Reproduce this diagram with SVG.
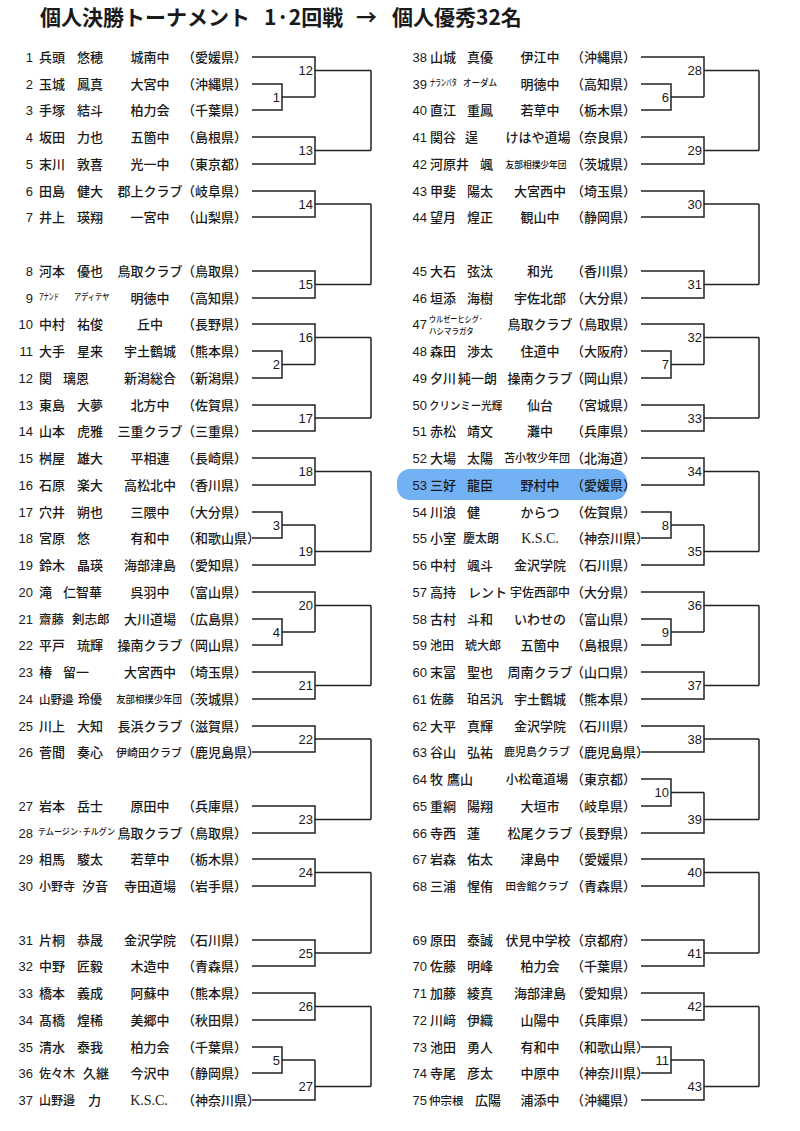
<svg xmlns="http://www.w3.org/2000/svg" width="800" height="1131" viewBox="0 0 800 1131">
<style>
svg{font-family:"Noto Sans CJK JP","Noto Sans CJK SC",sans-serif;font-size:13px;font-weight:500}
text{fill:#1a1a1a}
.n{font-family:"Liberation Sans",Arial,sans-serif;text-anchor:end}
.s{text-anchor:middle}
.k{font-family:"Liberation Serif",serif;font-size:14px}
.lb{font-family:"Liberation Sans",Arial,sans-serif;text-anchor:end;font-size:13px}
.ln{fill:none;stroke:#222;stroke-width:1.5}
.title{font-size:21px;font-weight:bold}
</style>
<rect width="800" height="1131" fill="#fff"/>
<g id="title">
<text class="title" x="40" y="25">個人決勝トーナメント</text>
<text class="title" x="264" y="25">1·2回戦</text>
<text class="title" x="356" y="25">→</text>
<text class="title" x="392" y="25">個人優秀32名</text>
</g>
<rect id="highlight" x="397" y="469" width="230" height="31" rx="13" fill="#4f9ef0" opacity="0.8"/>
<g id="connectors" class="ln">
<path d="M252 84 H282 V110 H252 M282 97 H315"/>
<path d="M252 57 H315 V97 M315 70.5 H371"/>
<path d="M252 137 H315 V164 H252 M315 150.5 H371"/>
<path d="M371 70.5 V150.5"/>
<path d="M252 191 H315 V217 H252 M315 204 H371"/>
<path d="M252 271 H315 V298 H252 M315 284.5 H371"/>
<path d="M371 204 V284.5"/>
<path d="M252 351 H282 V378 H252 M282 364.5 H315"/>
<path d="M252 324 H315 V364.5 M315 337.5 H371"/>
<path d="M252 405 H315 V431 H252 M315 418 H371"/>
<path d="M371 337.5 V418"/>
<path d="M252 458 H315 V485 H252 M315 471.5 H371"/>
<path d="M252 512 H282 V538 H252 M282 525 H315"/>
<path d="M252 565 H315 V525 M315 551.5 H371"/>
<path d="M371 471.5 V551.5"/>
<path d="M252 619 H282 V645 H252 M282 632 H315"/>
<path d="M252 592 H315 V632 M315 605.5 H371"/>
<path d="M252 672 H315 V699 H252 M315 685.5 H371"/>
<path d="M371 605.5 V685.5"/>
<path d="M252 726 H315 V752 H252 M315 739 H371"/>
<path d="M252 806 H315 V833 H252 M315 819.5 H371"/>
<path d="M371 739 V819.5"/>
<path d="M252 859 H315 V886 H252 M315 872.5 H371"/>
<path d="M252 940 H315 V966 H252 M315 953 H371"/>
<path d="M371 872.5 V953"/>
<path d="M252 993 H315 V1020 H252 M315 1006.5 H371"/>
<path d="M252 1047 H282 V1073 H252 M282 1060 H315"/>
<path d="M252 1100 H315 V1060 M315 1086.5 H371"/>
<path d="M371 1006.5 V1086.5"/>

<path d="M641 84 H671 V110 H641 M671 97 H704"/>
<path d="M641 57 H704 V97 M704 70.5 H759"/>
<path d="M641 137 H704 V164 H641 M704 150.5 H759"/>
<path d="M759 70.5 V150.5"/>
<path d="M641 191 H704 V217 H641 M704 204 H759"/>
<path d="M641 271 H704 V298 H641 M704 284.5 H759"/>
<path d="M759 204 V284.5"/>
<path d="M641 351 H671 V378 H641 M671 364.5 H704"/>
<path d="M641 324 H704 V364.5 M704 337.5 H759"/>
<path d="M641 405 H704 V431 H641 M704 418 H759"/>
<path d="M759 337.5 V418"/>
<path d="M641 458 H704 V485 H641 M704 471.5 H759"/>
<path d="M641 512 H671 V538 H641 M671 525 H704"/>
<path d="M641 565 H704 V525 M704 551.5 H759"/>
<path d="M759 471.5 V551.5"/>
<path d="M641 619 H671 V645 H641 M671 632 H704"/>
<path d="M641 592 H704 V632 M704 605.5 H759"/>
<path d="M641 672 H704 V699 H641 M704 685.5 H759"/>
<path d="M759 605.5 V685.5"/>
<path d="M641 726 H704 V752 H641 M704 739 H759"/>
<path d="M641 779 H671 V806 H641 M671 792.5 H704"/>
<path d="M641 833 H704 V792.5 M704 819.5 H759"/>
<path d="M759 739 V819.5"/>
<path d="M641 859 H704 V886 H641 M704 872.5 H759"/>
<path d="M641 940 H704 V966 H641 M704 953 H759"/>
<path d="M759 872.5 V953"/>
<path d="M641 993 H704 V1020 H641 M704 1006.5 H759"/>
<path d="M641 1047 H671 V1073 H641 M671 1060 H704"/>
<path d="M641 1100 H704 V1060 M704 1086.5 H759"/>
<path d="M759 1006.5 V1086.5"/>
</g>
<g id="match-labels">
<text class="lb" x="280" y="101.5">1</text>
<text class="lb" x="313" y="75">12</text>
<text class="lb" x="313" y="155">13</text>
<text class="lb" x="313" y="208.5">14</text>
<text class="lb" x="313" y="289">15</text>
<text class="lb" x="280" y="369">2</text>
<text class="lb" x="313" y="342">16</text>
<text class="lb" x="313" y="422.5">17</text>
<text class="lb" x="313" y="476">18</text>
<text class="lb" x="280" y="529.5">3</text>
<text class="lb" x="313" y="556">19</text>
<text class="lb" x="280" y="636.5">4</text>
<text class="lb" x="313" y="610">20</text>
<text class="lb" x="313" y="690">21</text>
<text class="lb" x="313" y="743.5">22</text>
<text class="lb" x="313" y="824">23</text>
<text class="lb" x="313" y="877">24</text>
<text class="lb" x="313" y="957.5">25</text>
<text class="lb" x="313" y="1011">26</text>
<text class="lb" x="280" y="1064.5">5</text>
<text class="lb" x="313" y="1091">27</text>
<text class="lb" x="669" y="101.5">6</text>
<text class="lb" x="702" y="75">28</text>
<text class="lb" x="702" y="155">29</text>
<text class="lb" x="702" y="208.5">30</text>
<text class="lb" x="702" y="289">31</text>
<text class="lb" x="669" y="369">7</text>
<text class="lb" x="702" y="342">32</text>
<text class="lb" x="702" y="422.5">33</text>
<text class="lb" x="702" y="476">34</text>
<text class="lb" x="669" y="529.5">8</text>
<text class="lb" x="702" y="556">35</text>
<text class="lb" x="669" y="636.5">9</text>
<text class="lb" x="702" y="610">36</text>
<text class="lb" x="702" y="690">37</text>
<text class="lb" x="702" y="743.5">38</text>
<text class="lb" x="669" y="797">10</text>
<text class="lb" x="702" y="824">39</text>
<text class="lb" x="702" y="877">40</text>
<text class="lb" x="702" y="957.5">41</text>
<text class="lb" x="702" y="1011">42</text>
<text class="lb" x="669" y="1064.5">11</text>
<text class="lb" x="702" y="1091">43</text>
</g>
<g id="p1"><text class="n" x="33" y="62">1</text><text x="39" y="62">兵頭</text><text x="77" y="62">悠穂</text><text class="s" x="150" y="62">城南中</text><text x="182" y="62">（愛媛県）</text></g>
<g id="p2"><text class="n" x="33" y="89">2</text><text x="39" y="89">玉城</text><text x="77" y="89">鳳真</text><text class="s" x="150" y="89">大宮中</text><text x="182" y="89">（沖縄県）</text></g>
<g id="p3"><text class="n" x="33" y="115">3</text><text x="39" y="115">手塚</text><text x="77" y="115">結斗</text><text class="s" x="150" y="115">柏力会</text><text x="182" y="115">（千葉県）</text></g>
<g id="p4"><text class="n" x="33" y="142">4</text><text x="39" y="142">坂田</text><text x="77" y="142">力也</text><text class="s" x="150" y="142">五箇中</text><text x="182" y="142">（島根県）</text></g>
<g id="p5"><text class="n" x="33" y="169">5</text><text x="39" y="169">末川</text><text x="77" y="169">敦喜</text><text class="s" x="150" y="169">光一中</text><text x="182" y="169">（東京都）</text></g>
<g id="p6"><text class="n" x="33" y="196">6</text><text x="39" y="196">田島</text><text x="77" y="196">健大</text><text class="s" x="150" y="196">郡上クラブ</text><text x="182" y="196">（岐阜県）</text></g>
<g id="p7"><text class="n" x="33" y="222">7</text><text x="39" y="222">井上</text><text x="77" y="222">瑛翔</text><text class="s" x="150" y="222">一宮中</text><text x="182" y="222">（山梨県）</text></g>
<g id="p8"><text class="n" x="33" y="276">8</text><text x="39" y="276">河本</text><text x="77" y="276">優也</text><text class="s" x="150" y="276">鳥取クラブ</text><text x="182" y="276">（鳥取県）</text></g>
<g id="p9"><text class="n" x="33" y="303">9</text><text transform="translate(39,300) scale(0.55,1)" font-size="9">アナンド</text><text transform="translate(74,300) scale(0.8,1)" font-size="9">アディテヤ</text><text class="s" x="150" y="303">明徳中</text><text x="182" y="303">（高知県）</text></g>
<g id="p10"><text class="n" x="33" y="329">10</text><text x="39" y="329">中村</text><text x="77" y="329">祐俊</text><text class="s" x="150" y="329">丘中</text><text x="182" y="329">（長野県）</text></g>
<g id="p11"><text class="n" x="33" y="356">11</text><text x="39" y="356">大手</text><text x="77" y="356">星来</text><text class="s" x="150" y="356">宇土鶴城</text><text x="182" y="356">（熊本県）</text></g>
<g id="p12"><text class="n" x="33" y="383">12</text><text x="39" y="383">関</text><text x="63" y="383">璃恩</text><text class="s" x="150" y="383">新潟総合</text><text x="182" y="383">（新潟県）</text></g>
<g id="p13"><text class="n" x="33" y="410">13</text><text x="39" y="410">東島</text><text x="77" y="410">大夢</text><text class="s" x="150" y="410">北方中</text><text x="182" y="410">（佐賀県）</text></g>
<g id="p14"><text class="n" x="33" y="436">14</text><text x="39" y="436">山本</text><text x="77" y="436">虎雅</text><text class="s" x="150" y="436">三重クラブ</text><text x="182" y="436">（三重県）</text></g>
<g id="p15"><text class="n" x="33" y="463">15</text><text x="39" y="463">桝屋</text><text x="77" y="463">雄大</text><text class="s" x="150" y="463">平相連</text><text x="182" y="463">（長崎県）</text></g>
<g id="p16"><text class="n" x="33" y="490">16</text><text x="39" y="490">石原</text><text x="77" y="490">楽大</text><text class="s" x="150" y="490">高松北中</text><text x="182" y="490">（香川県）</text></g>
<g id="p17"><text class="n" x="33" y="517">17</text><text x="39" y="517">穴井</text><text x="77" y="517">朔也</text><text class="s" x="150" y="517">三隈中</text><text x="182" y="517">（大分県）</text></g>
<g id="p18"><text class="n" x="33" y="543">18</text><text x="39" y="543">宮原</text><text x="77" y="543">悠</text><text class="s" x="150" y="543">有和中</text><text x="182" y="543">（和歌山県）</text></g>
<g id="p19"><text class="n" x="33" y="570">19</text><text x="39" y="570">鈴木</text><text x="77" y="570">晶瑛</text><text class="s" x="150" y="570">海部津島</text><text x="182" y="570">（愛知県）</text></g>
<g id="p20"><text class="n" x="33" y="597">20</text><text x="39" y="597">滝</text><text x="63" y="597">仁智華</text><text class="s" x="150" y="597">呉羽中</text><text x="182" y="597">（富山県）</text></g>
<g id="p21"><text class="n" x="33" y="624">21</text><text x="39" y="624" font-size="12.5">齋藤</text><text x="72" y="624" font-size="12.5">剣志郎</text><text class="s" x="150" y="624">大川道場</text><text x="182" y="624">（広島県）</text></g>
<g id="p22"><text class="n" x="33" y="650">22</text><text x="39" y="650">平戸</text><text x="77" y="650">琉輝</text><text class="s" x="150" y="650">操南クラブ</text><text x="182" y="650">（岡山県）</text></g>
<g id="p23"><text class="n" x="33" y="677">23</text><text x="39" y="677">椿</text><text x="63" y="677">留一</text><text class="s" x="150" y="677">大宮西中</text><text x="182" y="677">（埼玉県）</text></g>
<g id="p24"><text class="n" x="33" y="704">24</text><text x="39" y="704" font-size="11.5">山野邉</text><text x="78" y="704" font-size="12">玲優</text><text class="s" transform="translate(149,703) scale(0.94,1)" font-size="10">友部相撲少年団</text><text x="182" y="704">（茨城県）</text></g>
<g id="p25"><text class="n" x="33" y="731">25</text><text x="39" y="731">川上</text><text x="77" y="731">大知</text><text class="s" x="150" y="731">長浜クラブ</text><text x="182" y="731">（滋賀県）</text></g>
<g id="p26"><text class="n" x="33" y="757">26</text><text x="39" y="757">菅間</text><text x="77" y="757">奏心</text><text class="s" x="149" y="757" font-size="11">伊崎田クラブ</text><text x="182" y="757">（鹿児島県）</text></g>
<g id="p27"><text class="n" x="33" y="811">27</text><text x="39" y="811">岩本</text><text x="77" y="811">岳士</text><text class="s" x="150" y="811">原田中</text><text x="182" y="811">（兵庫県）</text></g>
<g id="p28"><text class="n" x="33" y="838">28</text><text transform="translate(38,835) scale(0.9,1)" font-size="9">テムージン·チルグン</text><text class="s" x="150" y="838">鳥取クラブ</text><text x="182" y="838">（鳥取県）</text></g>
<g id="p29"><text class="n" x="33" y="864">29</text><text x="39" y="864">相馬</text><text x="77" y="864">駿太</text><text class="s" x="150" y="864">若草中</text><text x="182" y="864">（栃木県）</text></g>
<g id="p30"><text class="n" x="33" y="891">30</text><text x="39" y="891" font-size="12">小野寺</text><text x="82" y="891">汐音</text><text class="s" x="150" y="891">寺田道場</text><text x="182" y="891">（岩手県）</text></g>
<g id="p31"><text class="n" x="33" y="945">31</text><text x="39" y="945">片桐</text><text x="77" y="945">恭晟</text><text class="s" x="150" y="945">金沢学院</text><text x="182" y="945">（石川県）</text></g>
<g id="p32"><text class="n" x="33" y="971">32</text><text x="39" y="971">中野</text><text x="77" y="971">匠毅</text><text class="s" x="150" y="971">木造中</text><text x="182" y="971">（青森県）</text></g>
<g id="p33"><text class="n" x="33" y="998">33</text><text x="39" y="998">橋本</text><text x="77" y="998">義成</text><text class="s" x="150" y="998">阿蘇中</text><text x="182" y="998">（熊本県）</text></g>
<g id="p34"><text class="n" x="33" y="1025">34</text><text x="39" y="1025">髙橋</text><text x="77" y="1025">煌稀</text><text class="s" x="150" y="1025">美郷中</text><text x="182" y="1025">（秋田県）</text></g>
<g id="p35"><text class="n" x="33" y="1052">35</text><text x="39" y="1052">清水</text><text x="77" y="1052">泰我</text><text class="s" x="150" y="1052">柏力会</text><text x="182" y="1052">（千葉県）</text></g>
<g id="p36"><text class="n" x="33" y="1078">36</text><text x="39" y="1078" font-size="12">佐々木</text><text x="83" y="1078">久継</text><text class="s" x="150" y="1078">今沢中</text><text x="182" y="1078">（静岡県）</text></g>
<g id="p37"><text class="n" x="33" y="1105">37</text><text x="39" y="1105" font-size="12">山野邉</text><text x="88" y="1105">力</text><text class="s k" x="149" y="1105">K.S.C.</text><text x="182" y="1105">（神奈川県）</text></g>

<g id="p38"><text class="n" x="427" y="62">38</text><text x="430" y="62">山城</text><text x="467" y="62">真優</text><text class="s" x="540" y="62">伊江中</text><text x="571" y="62">（沖縄県）</text></g>
<g id="p39"><text class="n" x="427" y="89">39</text><text transform="translate(430,86) scale(0.6,1)" font-size="9">ナランバタ</text><text transform="translate(463,86) scale(0.95,1)" font-size="9">オーダム</text><text class="s" x="540" y="89">明徳中</text><text x="571" y="89">（高知県）</text></g>
<g id="p40"><text class="n" x="427" y="115">40</text><text x="430" y="115">直江</text><text x="467" y="115">重鳳</text><text class="s" x="540" y="115">若草中</text><text x="571" y="115">（栃木県）</text></g>
<g id="p41"><text class="n" x="427" y="142">41</text><text x="430" y="142">関谷</text><text x="465" y="142">逞</text><text class="s" x="538" y="142">けはや道場</text><text x="571" y="142">（奈良県）</text></g>
<g id="p42"><text class="n" x="427" y="169">42</text><text x="430" y="169">河原井</text><text x="480" y="169">颯</text><text class="s" transform="translate(536,168) scale(0.92,1)" font-size="9.5">友部相撲少年団</text><text x="571" y="169">（茨城県）</text></g>
<g id="p43"><text class="n" x="427" y="196">43</text><text x="430" y="196">甲斐</text><text x="467" y="196">陽太</text><text class="s" x="540" y="196">大宮西中</text><text x="571" y="196">（埼玉県）</text></g>
<g id="p44"><text class="n" x="427" y="222">44</text><text x="430" y="222">望月</text><text x="467" y="222">煌正</text><text class="s" x="540" y="222">観山中</text><text x="571" y="222">（静岡県）</text></g>
<g id="p45"><text class="n" x="427" y="276">45</text><text x="430" y="276">大石</text><text x="467" y="276">弦汰</text><text class="s" x="540" y="276">和光</text><text x="571" y="276">（香川県）</text></g>
<g id="p46"><text class="n" x="427" y="303">46</text><text x="430" y="303">垣添</text><text x="467" y="303">海樹</text><text class="s" x="540" y="303">宇佐北部</text><text x="571" y="303">（大分県）</text></g>
<g id="p47"><text class="n" x="427" y="329">47</text><text transform="translate(429,322) scale(0.84,1)" font-size="8.5">ウルゼーヒシグ·</text><text transform="translate(429,334) scale(0.88,1)" font-size="8.5">ハシマラガタ</text><text class="s" x="540" y="329">鳥取クラブ</text><text x="571" y="329">（鳥取県）</text></g>
<g id="p48"><text class="n" x="427" y="356">48</text><text x="430" y="356">森田</text><text x="467" y="356">渉太</text><text class="s" x="540" y="356">住道中</text><text x="571" y="356">（大阪府）</text></g>
<g id="p49"><text class="n" x="427" y="383">49</text><text x="430" y="383">夕川</text><text x="458" y="383">純一朗</text><text class="s" x="540" y="383">操南クラブ</text><text x="571" y="383">（岡山県）</text></g>
<g id="p50"><text class="n" x="427" y="410">50</text><text transform="translate(429,410) scale(0.95,1)" font-size="11">クリンミー光輝</text><text class="s" x="540" y="410">仙台</text><text x="571" y="410">（宮城県）</text></g>
<g id="p51"><text class="n" x="427" y="436">51</text><text x="430" y="436">赤松</text><text x="467" y="436">靖文</text><text class="s" x="540" y="436">灘中</text><text x="571" y="436">（兵庫県）</text></g>
<g id="p52"><text class="n" x="427" y="463">52</text><text x="430" y="463">大場</text><text x="467" y="463">太陽</text><text class="s" x="537" y="462" font-size="11">苫小牧少年団</text><text x="571" y="463">（北海道）</text></g>
<g id="p53"><text class="n" x="427" y="490">53</text><text x="430" y="490">三好</text><text x="467" y="490">龍臣</text><text class="s" x="540" y="490">野村中</text><text x="571" y="490">（愛媛県）</text></g>
<g id="p54"><text class="n" x="427" y="517">54</text><text x="430" y="517">川浪</text><text x="467" y="517">健</text><text class="s" x="540" y="517">からつ</text><text x="571" y="517">（佐賀県）</text></g>
<g id="p55"><text class="n" x="427" y="543">55</text><text x="430" y="543">小室</text><text x="463" y="543" font-size="12">慶太朗</text><text class="s k" x="540" y="543">K.S.C.</text><text x="571" y="543">（神奈川県）</text></g>
<g id="p56"><text class="n" x="427" y="570">56</text><text x="430" y="570">中村</text><text x="467" y="570">颯斗</text><text class="s" x="540" y="570">金沢学院</text><text x="571" y="570">（石川県）</text></g>
<g id="p57"><text class="n" x="427" y="597">57</text><text x="430" y="597">高持</text><text x="468" y="597">レント</text><text class="s" x="540" y="597" font-size="12">宇佐西部中</text><text x="571" y="597">（大分県）</text></g>
<g id="p58"><text class="n" x="427" y="624">58</text><text x="430" y="624">古村</text><text x="467" y="624">斗和</text><text class="s" x="540" y="624">いわせの</text><text x="571" y="624">（富山県）</text></g>
<g id="p59"><text class="n" x="427" y="650">59</text><text x="430" y="650" font-size="12">池田</text><text x="465" y="650" font-size="12">琥大郎</text><text class="s" x="540" y="650">五箇中</text><text x="571" y="650">（島根県）</text></g>
<g id="p60"><text class="n" x="427" y="677">60</text><text x="430" y="677">末冨</text><text x="467" y="677">聖也</text><text class="s" x="540" y="677">周南クラブ</text><text x="571" y="677">（山口県）</text></g>
<g id="p61"><text class="n" x="427" y="704">61</text><text x="430" y="704" font-size="12">佐藤</text><text x="467" y="704" font-size="12">珀呂汎</text><text class="s" x="540" y="704">宇土鶴城</text><text x="571" y="704">（熊本県）</text></g>
<g id="p62"><text class="n" x="427" y="731">62</text><text x="430" y="731">大平</text><text x="467" y="731">真輝</text><text class="s" x="540" y="731">金沢学院</text><text x="571" y="731">（石川県）</text></g>
<g id="p63"><text class="n" x="427" y="757">63</text><text x="430" y="757">谷山</text><text x="467" y="757">弘祐</text><text class="s" x="537" y="756" font-size="11">鹿児島クラブ</text><text x="571" y="757">（鹿児島県）</text></g>
<g id="p64"><text class="n" x="427" y="784">64</text><text x="430" y="784">牧</text><text x="447" y="784">鷹山</text><text class="s" x="537" y="784" font-size="12.5">小松竜道場</text><text x="571" y="784">（東京都）</text></g>
<g id="p65"><text class="n" x="427" y="811">65</text><text x="430" y="811">重綱</text><text x="467" y="811">陽翔</text><text class="s" x="540" y="811">大垣市</text><text x="571" y="811">（岐阜県）</text></g>
<g id="p66"><text class="n" x="427" y="838">66</text><text x="430" y="838">寺西</text><text x="467" y="838">蓮</text><text class="s" x="540" y="838">松尾クラブ</text><text x="571" y="838">（長野県）</text></g>
<g id="p67"><text class="n" x="427" y="864">67</text><text x="430" y="864">岩森</text><text x="467" y="864">佑太</text><text class="s" x="540" y="864">津島中</text><text x="571" y="864">（愛媛県）</text></g>
<g id="p68"><text class="n" x="427" y="891">68</text><text x="430" y="891">三浦</text><text x="467" y="891">惺侑</text><text class="s" x="537" y="890" font-size="10.5">田舎館クラブ</text><text x="571" y="891">（青森県）</text></g>
<g id="p69"><text class="n" x="427" y="945">69</text><text x="430" y="945">原田</text><text x="467" y="945">泰誠</text><text class="s" x="538" y="945">伏見中学校</text><text x="571" y="945">（京都府）</text></g>
<g id="p70"><text class="n" x="427" y="971">70</text><text x="430" y="971">佐藤</text><text x="467" y="971">明峰</text><text class="s" x="540" y="971">柏力会</text><text x="571" y="971">（千葉県）</text></g>
<g id="p71"><text class="n" x="427" y="998">71</text><text x="430" y="998">加藤</text><text x="467" y="998">綾真</text><text class="s" x="540" y="998">海部津島</text><text x="571" y="998">（愛知県）</text></g>
<g id="p72"><text class="n" x="427" y="1025">72</text><text x="430" y="1025">川﨑</text><text x="467" y="1025">伊織</text><text class="s" x="540" y="1025">山陽中</text><text x="571" y="1025">（兵庫県）</text></g>
<g id="p73"><text class="n" x="427" y="1052">73</text><text x="430" y="1052">池田</text><text x="467" y="1052">勇人</text><text class="s" x="540" y="1052">有和中</text><text x="571" y="1052">（和歌山県）</text></g>
<g id="p74"><text class="n" x="427" y="1078">74</text><text x="430" y="1078">寺尾</text><text x="467" y="1078">彦太</text><text class="s" x="540" y="1078">中原中</text><text x="571" y="1078">（神奈川県）</text></g>
<g id="p75"><text class="n" x="427" y="1105">75</text><text x="429" y="1105" font-size="11.5">仲宗根</text><text x="475" y="1105">広陽</text><text class="s" x="540" y="1105">浦添中</text><text x="571" y="1105">（沖縄県）</text></g>
</svg>
